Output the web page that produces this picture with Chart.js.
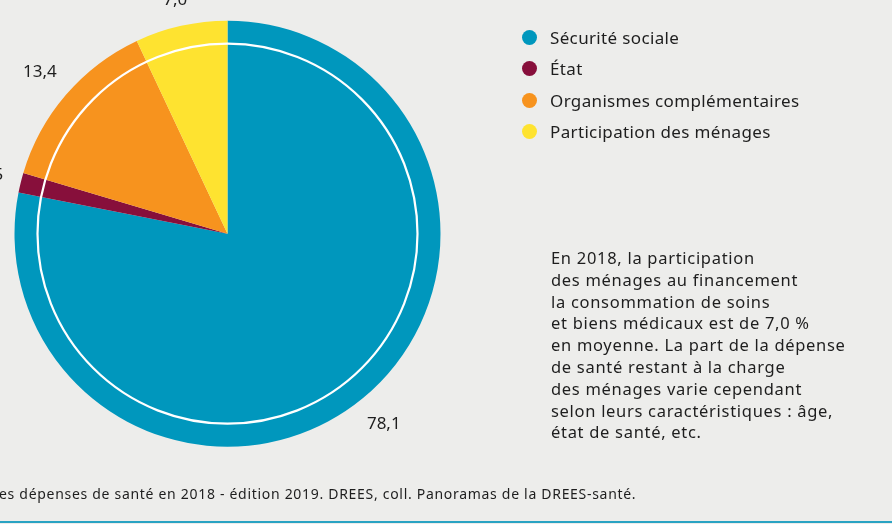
<!DOCTYPE html>
<html>
<head>
  <meta charset="UTF-8">
  <title>Financement de la CSBM 2018</title>
  <script src="https://cdn.jsdelivr.net/npm/chart.js@4.4.0/dist/chart.umd.min.js"></script>
  <style>
    html, body { margin: 0; padding: 0; background: #ededeb; }
    #wrap { position: relative; width: 892px; height: 524px; overflow: hidden; background: #ededeb; font-family: "Noto Sans", Lato, sans-serif; color: #1e1e1e; }
    #pie { position: absolute; left: 0; top: 0; }
    #legend { position: absolute; left: 522px; top: 22px; margin: 0; padding: 0; list-style: none; }
    #legend li { height: 31.3px; font-size: 17px; letter-spacing: 0.35px; display: flex; align-items: center; }
    #legend span.dot { display: inline-block; width: 15px; height: 15px; border-radius: 50%; margin-right: 13px; }
    #note { position: absolute; left: 551px; top: 247px; font-size: 16.5px; letter-spacing: 0.7px; line-height: 21.8px; margin: 0; }
    #source { position: absolute; left: -1px; top: 484px; font-size: 14px; letter-spacing: 0.7px; margin: 0; }
    #rule { position: absolute; left: 0; top: 521px; width: 892px; height: 2px; background: #2aa3c3; }
  </style>
</head>
<body>
  <div id="wrap">
    <canvas id="pie" width="892" height="524"></canvas>
    <ul id="legend"></ul>
    <p id="note">En 2018, la participation<br>des ménages au financement<br>la consommation de soins<br>et biens médicaux est de 7,0 %<br>en moyenne. La part de la dépense<br>de santé restant à la charge<br>des ménages varie cependant<br>selon leurs caractéristiques : âge,<br>état de santé, etc.</p>
    <p id="source">es dépenses de santé en 2018 - édition 2019. DREES, coll. Panoramas de la DREES-santé.</p>
    <div id="rule"></div>
  </div>

  <script>
    const categories = ["Sécurité sociale", "État", "Organismes complémentaires", "Participation des ménages"];
    const shares = [78.1, 1.5, 13.4, 7.0];
    const colors = ["#0097bd", "#870f3b", "#f7931e", "#fee330"];

    // legend built from the same arrays
    document.getElementById("legend").innerHTML = categories.map((c, i) =>
      `<li><span class="dot" style="background:${colors[i]}"></span>${c}</li>`).join("");

    // white circle drawn over the pie
    const innerRing = {
      id: "innerRing",
      afterDatasetsDraw(chart) {
        const arc = chart.getDatasetMeta(0).data[0];
        const ctx = chart.ctx;
        ctx.save();
        ctx.strokeStyle = "#ffffff";
        ctx.lineWidth = 2.2;
        ctx.beginPath();
        ctx.arc(arc.x, arc.y, arc.outerRadius * 190 / 213, 0, Math.PI * 2);
        ctx.stroke();
        ctx.restore();
      }
    };

    // value labels outside each slice, kept a fixed gap from the rim
    const sliceLabels = {
      id: "sliceLabels",
      afterDraw(chart) {
        const ctx = chart.ctx;
        ctx.save();
        ctx.font = "17px 'Noto Sans', Lato, sans-serif";
        ctx.fillStyle = "#1e1e1e";
        ctx.textAlign = "center";
        ctx.textBaseline = "middle";
        chart.getDatasetMeta(0).data.forEach((arc, i) => {
          const txt = shares[i].toFixed(1).replace(".", ",");
          const w = ctx.measureText(txt).width;
          const mid = (arc.startAngle + arc.endAngle) / 2;
          const cx = Math.cos(mid), cy = Math.sin(mid);
          const r = arc.outerRadius + 17 + Math.abs(cx) * w / 2 + Math.abs(cy) * 7;
          ctx.fillText(txt, arc.x + cx * r, arc.y + cy * r);
        });
        ctx.restore();
      }
    };

    new Chart(document.getElementById("pie").getContext("2d"), {
      type: "pie",
      data: {
        labels: categories,
        datasets: [{
          data: shares,
          backgroundColor: colors,
          borderWidth: 0
        }]
      },
      options: {
        responsive: false,
        animation: false,
        layout: { padding: { left: 14.5, top: 20.7, right: 451.5, bottom: 77.3 } },
        plugins: {
          legend: { display: false },
          tooltip: { enabled: false }
        }
      },
      plugins: [innerRing, sliceLabels]
    });
  </script>
</body>
</html>
